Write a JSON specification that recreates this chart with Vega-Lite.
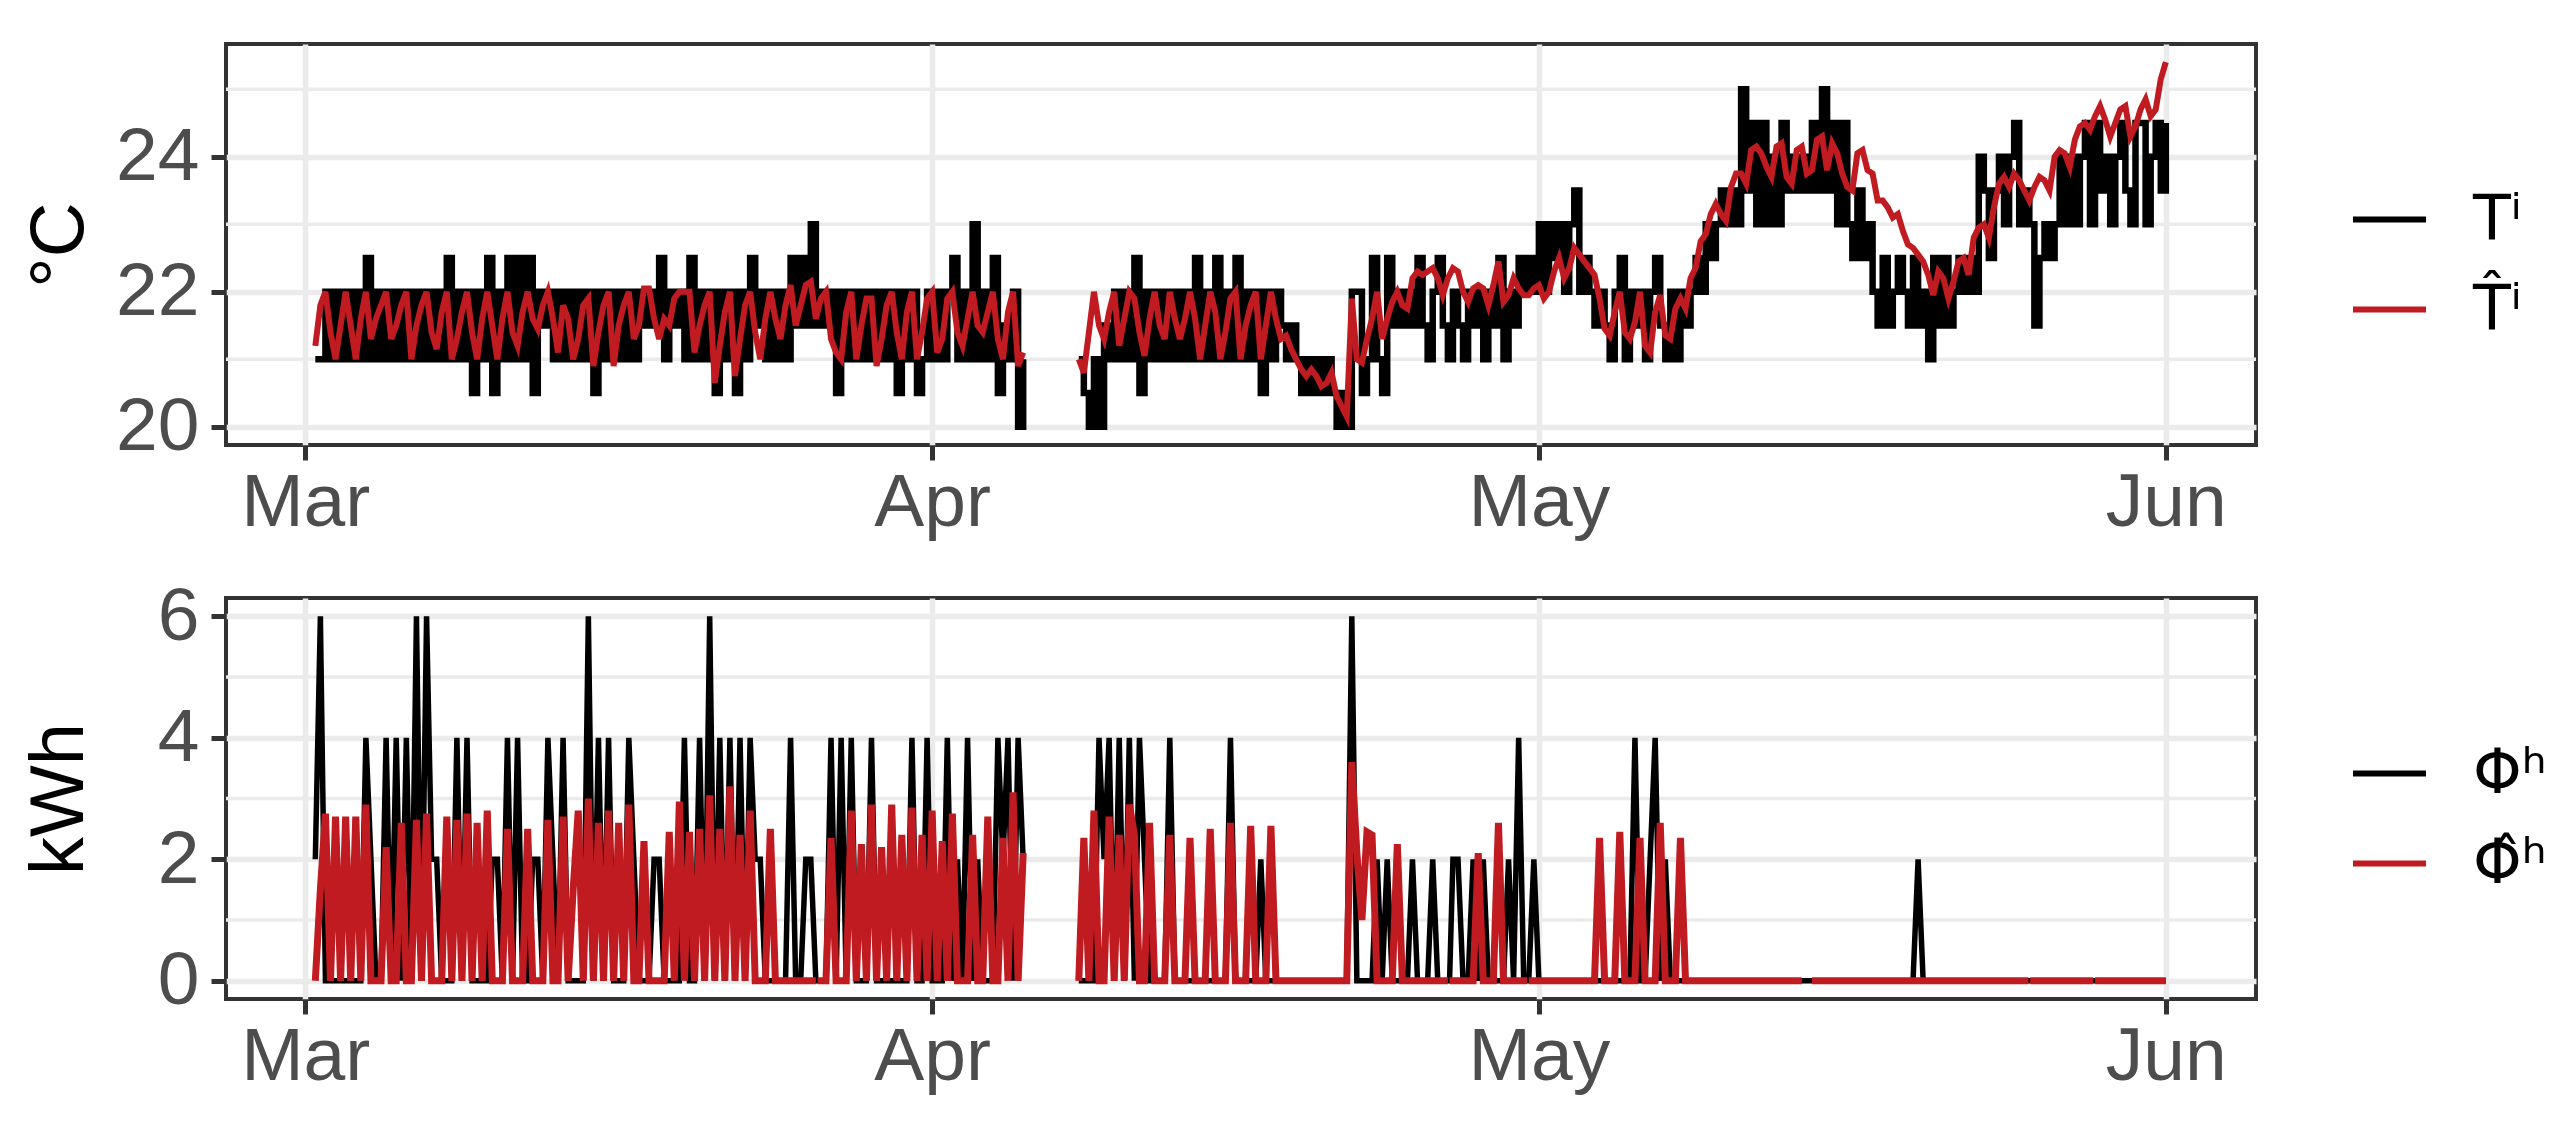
{
"$schema": "https://vega.github.io/schema/vega-lite/v6.json",
"background": "white",
"padding": {"left": 19, "top": 42, "right": 5, "bottom": 5},
"spacing": 35,
"resolve": {"scale": {"color": "independent", "x": "independent", "y": "independent"}},
"config": {
 "font": "Liberation Sans",
 "view": {"stroke": "#333333", "strokeWidth": 4},
 "axis": {"labelFont": "Liberation Sans", "labelFontSize": 75, "labelColor": "#4D4D4D", "titleFont": "Liberation Sans", "titleFontSize": 76, "titleColor": "#000000", "titleFontWeight": "normal", "tickColor": "#333333", "tickWidth": 5, "tickSize": 15, "domain": false, "gridColor": "#EBEBEB", "gridWidth": 5.5},
 "axisX": {"labelFlush": false, "labelOverlap": false, "labelBound": false, "labelPadding": 6},
 "axisY": {"labelPadding": 12, "titleX": -144, "titleBaseline": "alphabetic", "format": "d"},
 "legend": {"title": null, "orient": "none", "legendX": 2124, "legendY": 136, "symbolType": "stroke", "symbolSize": 5329, "symbolStrokeWidth": 6, "labelFontSize": 62, "labelFont": "DejaVu Sans", "labelColor": "#000000", "rowPadding": 19, "labelOffset": 44, "padding": 0}
},
"vconcat": [
 {
  "width": 2030, "height": 401,
  "data": {"format": {"parse": {"t": "utc:'%m%d%H'"}}, "values": [
{"t":"030112","a":21,"b":21.2},{"t":"030118","a":21,"b":21.8},
{"t":"030200","a":22,"b":22},{"t":"030206","a":21,"b":21.4},{"t":"030212","a":22,"b":21},{"t":"030218","a":21,"b":21.5},
{"t":"030300","a":22,"b":22},{"t":"030306","a":21,"b":21.5},{"t":"030312","a":22,"b":21},{"t":"030318","a":21,"b":21.6},
{"t":"030400","a":22.5,"b":22},{"t":"030406","a":21,"b":21.3},{"t":"030412","a":22,"b":21.6},{"t":"030418","a":21,"b":21.8},
{"t":"030500","a":22,"b":22},{"t":"030506","a":21,"b":21.3},{"t":"030512","a":22,"b":21.5},{"t":"030518","a":21,"b":21.8},
{"t":"030600","a":22,"b":22},{"t":"030606","a":21,"b":21},{"t":"030612","a":22,"b":21.5},{"t":"030618","a":21,"b":21.8},
{"t":"030700","a":22,"b":22},{"t":"030706","a":21,"b":21.4},{"t":"030712","a":22,"b":21.15},{"t":"030718","a":21,"b":21.7},
{"t":"030800","a":22.5,"b":22},{"t":"030806","a":21,"b":21},{"t":"030812","a":22,"b":21.3},{"t":"030818","a":21,"b":21.7},
{"t":"030900","a":22,"b":22},{"t":"030906","a":20.5,"b":21.4},{"t":"030912","a":22,"b":21},{"t":"030918","a":21,"b":21.6},
{"t":"031000","a":22.5,"b":22},{"t":"031006","a":20.5,"b":21.5},{"t":"031012","a":22,"b":21},{"t":"031018","a":21,"b":21.6},
{"t":"031100","a":22.5,"b":22},{"t":"031106","a":21,"b":21.4},{"t":"031112","a":22.5,"b":21.2},{"t":"031118","a":21,"b":21.7},
{"t":"031200","a":22.5,"b":22},{"t":"031206","a":20.5,"b":21.6},{"t":"031212","a":22,"b":21.45},{"t":"031218","a":21.5,"b":21.8},
{"t":"031300","a":22,"b":22},{"t":"031306","a":21,"b":21.6},{"t":"031312","a":22,"b":21.1},{"t":"031318","a":21,"b":21.8},
{"t":"031400","a":22,"b":21.6},{"t":"031406","a":21,"b":21},{"t":"031412","a":22,"b":21.3},{"t":"031418","a":21,"b":21.8},
{"t":"031500","a":22,"b":21.9},{"t":"031506","a":20.5,"b":20.9},{"t":"031512","a":22,"b":21.4},{"t":"031518","a":21,"b":21.8},
{"t":"031600","a":22,"b":22},{"t":"031606","a":21,"b":20.9},{"t":"031612","a":22,"b":21.5},{"t":"031618","a":21,"b":21.8},
{"t":"031700","a":22,"b":22},{"t":"031706","a":21,"b":21.3},{"t":"031712","a":22,"b":21.5},{"t":"031718","a":21.5,"b":22.05},
{"t":"031800","a":22,"b":22.05},{"t":"031806","a":21.5,"b":21.6},{"t":"031812","a":22.5,"b":21.3},{"t":"031818","a":21,"b":21.6},
{"t":"031900","a":22,"b":21.5},{"t":"031906","a":21.5,"b":21.9},{"t":"031912","a":22,"b":22},{"t":"031918","a":21,"b":22},
{"t":"032000","a":22.5,"b":22},{"t":"032006","a":21,"b":21.1},{"t":"032012","a":22,"b":21.5},{"t":"032018","a":21,"b":21.8},
{"t":"032100","a":22,"b":22},{"t":"032106","a":20.5,"b":20.65},{"t":"032112","a":22,"b":21.2},{"t":"032118","a":21,"b":21.7},
{"t":"032200","a":22,"b":22},{"t":"032206","a":20.5,"b":20.75},{"t":"032212","a":22,"b":21.3},{"t":"032218","a":21,"b":21.8},
{"t":"032300","a":22.5,"b":22},{"t":"032306","a":21.5,"b":21.4},{"t":"032312","a":22,"b":21},{"t":"032318","a":21,"b":21.6},
{"t":"032400","a":22,"b":22},{"t":"032406","a":21,"b":21.6},{"t":"032412","a":22,"b":21.3},{"t":"032418","a":21,"b":21.8},
{"t":"032500","a":22.5,"b":22.1},{"t":"032506","a":21.5,"b":21.5},{"t":"032512","a":22.5,"b":21.8},{"t":"032518","a":21.5,"b":22.1},
{"t":"032600","a":23,"b":22.15},{"t":"032606","a":21.5,"b":21.6},{"t":"032612","a":22,"b":21.9},{"t":"032618","a":21.5,"b":22},
{"t":"032700","a":22,"b":21.3},{"t":"032706","a":20.5,"b":21.1},{"t":"032712","a":22,"b":21},{"t":"032718","a":21,"b":21.7},
{"t":"032800","a":22,"b":22},{"t":"032806","a":21,"b":21},{"t":"032812","a":22,"b":21.5},{"t":"032818","a":21,"b":21.9},
{"t":"032900","a":22,"b":21.9},{"t":"032906","a":21,"b":20.9},{"t":"032912","a":22,"b":21.3},{"t":"032918","a":21,"b":21.8},
{"t":"033000","a":22,"b":22},{"t":"033006","a":20.5,"b":21.4},{"t":"033012","a":22,"b":21},{"t":"033018","a":21,"b":21.7},
{"t":"033100","a":22,"b":22},{"t":"033106","a":20.5,"b":21},{"t":"033112","a":21,"b":21.4},{"t":"033118","a":22,"b":21.9},
{"t":"040100","a":21,"b":22},{"t":"040106","a":22,"b":21.1},{"t":"040112","a":21,"b":21.3},{"t":"040118","a":22,"b":21.9},
{"t":"040200","a":22.5,"b":22},{"t":"040206","a":21,"b":21.4},{"t":"040212","a":22,"b":21.2},{"t":"040218","a":21,"b":21.6},
{"t":"040300","a":23,"b":22},{"t":"040306","a":21,"b":21.5},{"t":"040312","a":22,"b":21.4},{"t":"040318","a":21,"b":21.7},
{"t":"040400","a":22.5,"b":22},{"t":"040406","a":20.5,"b":21.3},{"t":"040412","a":21.5,"b":21},{"t":"040418","a":21,"b":21.7},
{"t":"040500","a":22,"b":22},{"t":"040506","a":20,"b":20.9},{"t":"040512","a":21,"b":21.1},
{"t":"040618","a":null,"b":null},
{"t":"040806","a":21,"b":21},{"t":"040812","a":20.5,"b":20.8},{"t":"040818","a":20,"b":21.4},
{"t":"040900","a":21,"b":22},{"t":"040906","a":20,"b":21.5},{"t":"040912","a":21.5,"b":21.3},{"t":"040918","a":21,"b":21.7},
{"t":"041000","a":22,"b":22},{"t":"041006","a":21,"b":21.2},{"t":"041012","a":22,"b":21.6},{"t":"041018","a":21,"b":22},
{"t":"041100","a":22.5,"b":21.9},{"t":"041106","a":20.5,"b":21.4},{"t":"041112","a":22,"b":21.05},{"t":"041118","a":21,"b":21.6},
{"t":"041200","a":22,"b":22},{"t":"041206","a":21,"b":21.5},{"t":"041212","a":22,"b":21.3},{"t":"041218","a":21,"b":22},
{"t":"041300","a":22,"b":21.6},{"t":"041306","a":21,"b":21.3},{"t":"041312","a":22,"b":21.6},{"t":"041318","a":21,"b":22},
{"t":"041400","a":22.5,"b":21.6},{"t":"041406","a":21,"b":21},{"t":"041412","a":22,"b":21.5},{"t":"041418","a":21,"b":22},
{"t":"041500","a":22.5,"b":21.7},{"t":"041506","a":21,"b":21},{"t":"041512","a":22,"b":21.4},{"t":"041518","a":21,"b":21.9},
{"t":"041600","a":22.5,"b":22},{"t":"041606","a":21,"b":21},{"t":"041612","a":22,"b":21.5},{"t":"041618","a":21,"b":21.8},
{"t":"041700","a":22,"b":22},{"t":"041706","a":20.5,"b":21},{"t":"041712","a":22,"b":21.5},{"t":"041718","a":21,"b":22},
{"t":"041800","a":22,"b":21.6},{"t":"041806","a":21.5,"b":21.3},{"t":"041812","a":21,"b":21.35},{"t":"041818","a":21.5,"b":21.15},
{"t":"041900","a":21,"b":21},{"t":"041906","a":20.5,"b":20.85},{"t":"041912","a":21,"b":20.75},{"t":"041918","a":20.5,"b":20.85},
{"t":"042000","a":21,"b":20.75},{"t":"042006","a":20.5,"b":20.6},{"t":"042012","a":21,"b":20.65},{"t":"042018","a":20.5,"b":20.8},
{"t":"042100","a":20,"b":20.45},{"t":"042106","a":20.5,"b":20.3},{"t":"042112","a":20,"b":20.15},{"t":"042118","a":22,"b":21.9},
{"t":"042200","a":22,"b":21},{"t":"042206","a":20.5,"b":20.95},{"t":"042212","a":21,"b":21.3},{"t":"042218","a":22.5,"b":21.6},
{"t":"042300","a":21,"b":22},{"t":"042306","a":20.5,"b":21.3},{"t":"042312","a":22.5,"b":21.6},{"t":"042318","a":21.5,"b":21.85},
{"t":"042400","a":22,"b":22},{"t":"042406","a":21.5,"b":21.8},{"t":"042412","a":22,"b":21.75},{"t":"042418","a":21.5,"b":22.2},
{"t":"042500","a":22.5,"b":22.3},{"t":"042506","a":21.5,"b":22.25},{"t":"042512","a":21,"b":22.3},{"t":"042518","a":22,"b":22.35},
{"t":"042600","a":22.5,"b":22.2},{"t":"042606","a":21.5,"b":21.95},{"t":"042612","a":21,"b":22.2},{"t":"042618","a":22,"b":22.35},
{"t":"042700","a":21.5,"b":22.3},{"t":"042706","a":21,"b":22},{"t":"042712","a":22,"b":21.85},{"t":"042718","a":21.5,"b":22.05},
{"t":"042800","a":22,"b":22.1},{"t":"042806","a":21,"b":22.05},{"t":"042812","a":22,"b":21.8},{"t":"042818","a":21.5,"b":22.1},
{"t":"042900","a":22.5,"b":22.45},{"t":"042906","a":21,"b":21.85},{"t":"042912","a":22,"b":21.95},{"t":"042918","a":21.5,"b":22.2},
{"t":"043000","a":22.5,"b":22.05},{"t":"043006","a":22,"b":21.95},{"t":"043012","a":22.5,"b":21.95},{"t":"043018","a":22,"b":22.05},
{"t":"050100","a":23,"b":22.1},{"t":"050106","a":22,"b":21.9},{"t":"050112","a":23,"b":22},{"t":"050118","a":22.5,"b":22.3},
{"t":"050200","a":23,"b":22.5},{"t":"050206","a":22,"b":22.2},{"t":"050212","a":23,"b":22.35},{"t":"050218","a":23.5,"b":22.65},
{"t":"050300","a":22,"b":22.55},{"t":"050306","a":22.5,"b":22.45},{"t":"050312","a":22,"b":22.35},{"t":"050318","a":21.5,"b":22.25},
{"t":"050400","a":22,"b":21.9},{"t":"050406","a":21.5,"b":21.45},{"t":"050412","a":21,"b":21.35},{"t":"050418","a":22,"b":21.7},
{"t":"050500","a":22.5,"b":22},{"t":"050506","a":21,"b":21.4},{"t":"050512","a":22,"b":21.3},{"t":"050518","a":21.5,"b":21.55},
{"t":"050600","a":22,"b":22},{"t":"050606","a":21,"b":21.2},{"t":"050612","a":22,"b":21.1},{"t":"050618","a":22.5,"b":21.7},
{"t":"050700","a":21.5,"b":21.95},{"t":"050706","a":21,"b":21.35},{"t":"050712","a":22,"b":21.3},{"t":"050718","a":21,"b":21.75},
{"t":"050800","a":22,"b":21.9},{"t":"050806","a":21.5,"b":21.75},{"t":"050812","a":22,"b":22.2},{"t":"050818","a":22.5,"b":22.35},
{"t":"050900","a":22,"b":22.75},{"t":"050906","a":23,"b":22.85},{"t":"050912","a":22.5,"b":23.15},{"t":"050918","a":23,"b":23.3},
{"t":"051000","a":23.5,"b":23.15},{"t":"051006","a":23,"b":23.05},{"t":"051012","a":23.5,"b":23.55},{"t":"051018","a":23,"b":23.75},
{"t":"051100","a":25,"b":23.75},{"t":"051106","a":23.5,"b":23.6},{"t":"051112","a":24.5,"b":24.1},{"t":"051118","a":23,"b":24.15},
{"t":"051200","a":24.5,"b":24.05},{"t":"051206","a":23,"b":23.85},{"t":"051212","a":24,"b":23.7},{"t":"051218","a":23,"b":24.15},
{"t":"051300","a":24.5,"b":24.2},{"t":"051306","a":23.5,"b":23.7},{"t":"051312","a":24,"b":23.6},{"t":"051318","a":23.5,"b":24.1},
{"t":"051400","a":24,"b":24.15},{"t":"051406","a":23.5,"b":23.75},{"t":"051412","a":24.5,"b":23.8},{"t":"051418","a":23.5,"b":24.25},
{"t":"051500","a":25,"b":24.3},{"t":"051506","a":23.5,"b":23.8},{"t":"051512","a":24.5,"b":24.2},{"t":"051518","a":23,"b":24.05},
{"t":"051600","a":24.5,"b":23.75},{"t":"051606","a":23,"b":23.55},{"t":"051612","a":22.5,"b":23.5},{"t":"051618","a":23.5,"b":24.05},
{"t":"051700","a":22.5,"b":24.1},{"t":"051706","a":23,"b":23.8},{"t":"051712","a":22,"b":23.75},{"t":"051718","a":21.5,"b":23.35},
{"t":"051800","a":22.5,"b":23.35},{"t":"051806","a":21.5,"b":23.25},{"t":"051812","a":22,"b":23.1},{"t":"051818","a":22.5,"b":23.15},
{"t":"051900","a":22,"b":22.9},{"t":"051906","a":21.5,"b":22.7},{"t":"051912","a":22.5,"b":22.65},{"t":"051918","a":21.5,"b":22.55},
{"t":"052000","a":22,"b":22.45},{"t":"052006","a":21,"b":22.25},{"t":"052012","a":22.5,"b":21.95},{"t":"052018","a":21.5,"b":22.3},
{"t":"052100","a":22.5,"b":22.2},{"t":"052106","a":21.5,"b":21.9},{"t":"052112","a":22,"b":22.15},{"t":"052118","a":22.5,"b":22.45},
{"t":"052200","a":22,"b":22.5},{"t":"052206","a":22.5,"b":22.25},{"t":"052212","a":22,"b":22.8},{"t":"052218","a":24,"b":22.95},
{"t":"052300","a":23.5,"b":23},{"t":"052306","a":22.5,"b":22.8},{"t":"052312","a":23.5,"b":23.25},{"t":"052318","a":24,"b":23.6},
{"t":"052400","a":23,"b":23.7},{"t":"052406","a":24,"b":23.55},{"t":"052412","a":24.5,"b":23.75},{"t":"052418","a":23,"b":23.65},
{"t":"052500","a":23.5,"b":23.5},{"t":"052506","a":23,"b":23.35},{"t":"052512","a":21.5,"b":23.55},{"t":"052518","a":22.5,"b":23.7},
{"t":"052600","a":23,"b":23.65},{"t":"052606","a":22.5,"b":23.5},{"t":"052612","a":23,"b":24},{"t":"052618","a":24,"b":24.1},
{"t":"052700","a":23,"b":24.05},{"t":"052706","a":24,"b":23.85},{"t":"052712","a":23,"b":24.25},{"t":"052718","a":24,"b":24.45},
{"t":"052800","a":24.5,"b":24.5},{"t":"052806","a":23,"b":24.4},{"t":"052812","a":24.5,"b":24.6},{"t":"052818","a":23.5,"b":24.75},
{"t":"052900","a":24,"b":24.55},{"t":"052906","a":23,"b":24.3},{"t":"052912","a":24,"b":24.5},{"t":"052918","a":24.5,"b":24.7},
{"t":"053000","a":23.5,"b":24.75},{"t":"053006","a":23,"b":24.3},{"t":"053012","a":24.5,"b":24.45},{"t":"053018","a":24.5,"b":24.7},
{"t":"053100","a":23,"b":24.85},{"t":"053106","a":24,"b":24.6},{"t":"053112","a":24.5,"b":24.7},{"t":"053118","a":23.5,"b":25.15},
{"t":"060100","a":24.5,"b":25.4}
  ]},
  "layer": [
   {"data": {"format": {"parse": {"t": "utc:'%m%d%H'"}}, "values": [{"t":"031612"},{"t":"041600"},{"t":"051612"}]},
    "mark": {"type": "rule", "stroke": "#EBEBEB", "strokeWidth": 3.5},
    "encoding": {"x": {"field": "t", "type": "temporal", "title": null,
      "scale": {"type": "utc", "nice": false, "domain": [{"year":1900,"month":2,"date":25,"hours":2,"utc":true},{"year":1900,"month":6,"date":5,"hours":11,"utc":true}]},
      "axis": {"format": "%b", "values": [{"year":1900,"month":3,"date":1,"utc":true},{"year":1900,"month":4,"date":1,"utc":true},{"year":1900,"month":5,"date":1,"utc":true},{"year":1900,"month":6,"date":1,"utc":true}]}}}},
   {"data": {"values": [{"v":21},{"v":23},{"v":25}]},
    "mark": {"type": "rule", "stroke": "#EBEBEB", "strokeWidth": 3.5},
    "encoding": {"y": {"field": "v", "type": "quantitative", "title": "°C", "scale": {"domain": [19.73, 25.67], "nice": false, "zero": false}, "axis": {"values": [20, 22, 24]}}}},
   {"mark": {"type": "line", "strokeWidth": 6.5, "interpolate": "step-after", "invalid": "break-paths-filter-domains"},
    "encoding": {
     "x": {"field": "t", "type": "temporal", "title": null},
     "y": {"field": "a", "type": "quantitative", "title": "°C"},
     "color": {"datum": "Tⁱ", "type": "nominal", "scale": {"domain": ["Tⁱ", "T̂ⁱ"], "range": ["#000000", "#C01B21"]}}}},
   {"mark": {"type": "line", "strokeWidth": 6, "invalid": "break-paths-filter-domains"},
    "encoding": {
     "x": {"field": "t", "type": "temporal", "title": null},
     "y": {"field": "b", "type": "quantitative", "title": "°C"},
     "color": {"datum": "T̂ⁱ", "type": "nominal"}}}
  ]
 },
 {
  "width": 2030, "height": 401,
  "data": {"format": {"parse": {"t": "utc:'%m%d%H'"}}, "values": [
{"t":"030112","c":2,"d":0},{"t":"030118","c":6,"d":1.5},
{"t":"030200","c":0,"d":2.75},{"t":"030206","c":0,"d":0},{"t":"030212","c":0,"d":2.7},{"t":"030218","c":0,"d":0},
{"t":"030300","c":0,"d":2.7},{"t":"030306","c":0,"d":0},{"t":"030312","c":0,"d":2.7},{"t":"030318","c":0,"d":0},
{"t":"030400","c":4,"d":2.9},{"t":"030406","c":2,"d":0},{"t":"030412","c":0,"d":0},{"t":"030418","c":0,"d":0},
{"t":"030500","c":4,"d":2.2},{"t":"030506","c":0,"d":0},{"t":"030512","c":4,"d":0},{"t":"030518","c":0,"d":2.6},
{"t":"030600","c":4,"d":0},{"t":"030606","c":0,"d":0},{"t":"030612","c":6,"d":2.65},{"t":"030618","c":0,"d":0},
{"t":"030700","c":6,"d":2.75},{"t":"030706","c":2,"d":0},{"t":"030712","c":2,"d":0},{"t":"030718","c":0,"d":0},
{"t":"030800","c":0,"d":2.7},{"t":"030806","c":0,"d":0},{"t":"030812","c":4,"d":2.65},{"t":"030818","c":0,"d":0},
{"t":"030900","c":4,"d":2.75},{"t":"030906","c":0,"d":0},{"t":"030912","c":0,"d":2.6},{"t":"030918","c":0,"d":0},
{"t":"031000","c":0,"d":2.8},{"t":"031006","c":2,"d":0},{"t":"031012","c":2,"d":0},{"t":"031018","c":0,"d":0},
{"t":"031100","c":4,"d":2.5},{"t":"031106","c":0,"d":0},{"t":"031112","c":4,"d":0},{"t":"031118","c":0,"d":0},
{"t":"031200","c":0,"d":2.5},{"t":"031206","c":2,"d":0},{"t":"031212","c":2,"d":0},{"t":"031218","c":0,"d":0},
{"t":"031300","c":4,"d":2.65},{"t":"031306","c":2,"d":0},{"t":"031312","c":0,"d":0},{"t":"031318","c":4,"d":2.7},
{"t":"031400","c":0,"d":0},{"t":"031406","c":0,"d":1.5},{"t":"031412","c":0,"d":2.8},{"t":"031418","c":0,"d":0},
{"t":"031500","c":6,"d":3},{"t":"031506","c":0,"d":0},{"t":"031512","c":4,"d":2.6},{"t":"031518","c":0,"d":0},
{"t":"031600","c":4,"d":2.8},{"t":"031606","c":0,"d":0},{"t":"031612","c":0,"d":2.6},{"t":"031618","c":0,"d":0},
{"t":"031700","c":4,"d":2.9},{"t":"031706","c":2,"d":0},{"t":"031712","c":0,"d":0},{"t":"031718","c":0,"d":2.3},
{"t":"031800","c":0,"d":0},{"t":"031806","c":2,"d":0},{"t":"031812","c":2,"d":0},{"t":"031818","c":0,"d":0},
{"t":"031900","c":0,"d":2.45},{"t":"031906","c":0,"d":0},{"t":"031912","c":0,"d":2.95},{"t":"031918","c":4,"d":0},
{"t":"032000","c":0,"d":2.45},{"t":"032006","c":0,"d":0},{"t":"032012","c":4,"d":2.5},{"t":"032018","c":0,"d":0},
{"t":"032100","c":6,"d":3.05},{"t":"032106","c":0,"d":0},{"t":"032112","c":4,"d":2.5},{"t":"032118","c":0,"d":0},
{"t":"032200","c":4,"d":3.2},{"t":"032206","c":0,"d":0},{"t":"032212","c":4,"d":2.4},{"t":"032218","c":0,"d":0},
{"t":"032300","c":4,"d":2.8},{"t":"032306","c":2,"d":0},{"t":"032312","c":2,"d":0},{"t":"032318","c":0,"d":0},
{"t":"032400","c":0,"d":2.5},{"t":"032406","c":0,"d":0},{"t":"032412","c":0,"d":0},{"t":"032418","c":0,"d":0},
{"t":"032500","c":4,"d":0},{"t":"032506","c":0,"d":0},{"t":"032512","c":0,"d":0},{"t":"032518","c":2,"d":0},
{"t":"032600","c":2,"d":0},{"t":"032606","c":0,"d":0},{"t":"032607","c":0,"d":null},{"t":"032608","c":0,"d":0},{"t":"032612","c":0,"d":0},{"t":"032618","c":0,"d":0},
{"t":"032700","c":4,"d":2.35},{"t":"032706","c":0,"d":0},{"t":"032712","c":4,"d":0},{"t":"032718","c":0,"d":0},
{"t":"032800","c":4,"d":2.8},{"t":"032806","c":0,"d":0},{"t":"032812","c":0,"d":2.25},{"t":"032818","c":0,"d":0},
{"t":"032900","c":4,"d":2.9},{"t":"032906","c":0,"d":0},{"t":"032912","c":0,"d":2.2},{"t":"032918","c":0,"d":0},
{"t":"033000","c":0,"d":2.9},{"t":"033006","c":0,"d":0},{"t":"033012","c":0,"d":2.4},{"t":"033018","c":0,"d":0},
{"t":"033100","c":4,"d":2.85},{"t":"033106","c":0,"d":0},{"t":"033112","c":0,"d":2.4},{"t":"033118","c":4,"d":0},
{"t":"040100","c":0,"d":2.8},{"t":"040106","c":0,"d":0},{"t":"040112","c":0,"d":2.3},{"t":"040118","c":4,"d":0},
{"t":"040200","c":0,"d":2.75},{"t":"040206","c":2,"d":0},{"t":"040212","c":0,"d":0},{"t":"040218","c":4,"d":0},
{"t":"040300","c":0,"d":2.4},{"t":"040306","c":2,"d":0},{"t":"040312","c":0,"d":0},{"t":"040318","c":0,"d":2.7},
{"t":"040400","c":0,"d":0},{"t":"040406","c":4,"d":0},{"t":"040412","c":2,"d":2.35},{"t":"040418","c":4,"d":0},
{"t":"040500","c":0,"d":3.1},{"t":"040506","c":4,"d":0},{"t":"040512","c":2,"d":2.1},
{"t":"040618","c":null,"d":null},
{"t":"040806","c":0,"d":0},{"t":"040812","c":0,"d":2.35},{"t":"040818","c":0,"d":0},
{"t":"040900","c":0,"d":2.8},{"t":"040906","c":4,"d":0},{"t":"040912","c":2,"d":0},{"t":"040918","c":4,"d":2.7},
{"t":"041000","c":0,"d":0},{"t":"041006","c":4,"d":2.4},{"t":"041012","c":0,"d":0},{"t":"041018","c":4,"d":2.9},
{"t":"041100","c":0,"d":2.4},{"t":"041106","c":4,"d":0},{"t":"041112","c":2,"d":0},{"t":"041118","c":0,"d":2.6},
{"t":"041200","c":0,"d":0},{"t":"041212","c":0,"d":0},{"t":"041218","c":4,"d":2.4},
{"t":"041300","c":0,"d":0},{"t":"041312","c":0,"d":0},{"t":"041318","c":0,"d":2.35},
{"t":"041400","c":0,"d":0},{"t":"041412","c":0,"d":0},{"t":"041418","c":0,"d":2.5},
{"t":"041500","c":0,"d":0},{"t":"041512","c":0,"d":0},{"t":"041518","c":4,"d":2.6},
{"t":"041600","c":0,"d":0},{"t":"041612","c":0,"d":0},{"t":"041618","c":0,"d":2.55},
{"t":"041700","c":0,"d":0},{"t":"041706","c":2,"d":0},{"t":"041712","c":0,"d":0},{"t":"041718","c":0,"d":2.55},
{"t":"041800","c":0,"d":0},
{"t":"042112","c":0,"d":0},{"t":"042118","c":6,"d":3.6},
{"t":"042200","c":0,"d":2.1},{"t":"042206","c":0,"d":1},{"t":"042212","c":0,"d":2.45},{"t":"042218","c":0,"d":2.4},
{"t":"042300","c":2,"d":0},{"t":"042306","c":0,"d":0},{"t":"042312","c":2,"d":0},{"t":"042318","c":0,"d":0},
{"t":"042400","c":0,"d":2.25},{"t":"042406","c":0,"d":0},{"t":"042412","c":0,"d":0},{"t":"042418","c":2,"d":0},
{"t":"042500","c":0,"d":0},{"t":"042512","c":0,"d":0},{"t":"042518","c":2,"d":0},
{"t":"042600","c":0,"d":0},{"t":"042612","c":0,"d":0},{"t":"042613","c":0,"d":null},{"t":"042614","c":0,"d":0},{"t":"042618","c":2,"d":0},
{"t":"042700","c":2,"d":0},{"t":"042706","c":0,"d":0},{"t":"042712","c":0,"d":0},{"t":"042718","c":2,"d":0},
{"t":"042800","c":0,"d":2.1},{"t":"042806","c":2,"d":0},{"t":"042812","c":0,"d":0},{"t":"042818","c":0,"d":0},
{"t":"042900","c":0,"d":2.6},{"t":"042906","c":0,"d":0},{"t":"042912","c":2,"d":0},{"t":"042918","c":0,"d":0},
{"t":"043000","c":4,"d":0},{"t":"043006","c":0,"d":0},{"t":"043010","c":0,"d":0},{"t":"043011","c":0,"d":null},{"t":"043012","c":0,"d":0},{"t":"043018","c":2,"d":0},
{"t":"050100","c":0,"d":0},
{"t":"050318","c":0,"d":0},{"t":"050400","c":0,"d":2.35},{"t":"050406","c":0,"d":0},
{"t":"050418","c":0,"d":0},{"t":"050500","c":0,"d":2.45},{"t":"050506","c":0,"d":0},{"t":"050512","c":0,"d":0},{"t":"050518","c":4,"d":0},
{"t":"050600","c":0,"d":2.35},{"t":"050606","c":0,"d":0},{"t":"050612","c":2,"d":0},{"t":"050618","c":4,"d":0},
{"t":"050700","c":0,"d":2.6},{"t":"050706","c":2,"d":0},{"t":"050712","c":0,"d":0},{"t":"050718","c":0,"d":0},
{"t":"050800","c":0,"d":2.35},{"t":"050806","c":0,"d":0},
{"t":"051400","c":0,"d":0},{"t":"051406","c":0,"d":null},{"t":"051412","c":0,"d":0},
{"t":"051912","c":0,"d":0},{"t":"051918","c":2,"d":0},{"t":"052000","c":0,"d":0},
{"t":"052505","c":0,"d":0},{"t":"052506","c":0,"d":null},{"t":"052507","c":0,"d":0},
{"t":"052810","c":0,"d":0},{"t":"052811","c":0,"d":null},{"t":"052812","c":0,"d":0},
{"t":"060100","c":0,"d":0}
  ]},
  "layer": [
   {"data": {"format": {"parse": {"t": "utc:'%m%d%H'"}}, "values": [{"t":"031612"},{"t":"041600"},{"t":"051612"}]},
    "mark": {"type": "rule", "stroke": "#EBEBEB", "strokeWidth": 3.5},
    "encoding": {"x": {"field": "t", "type": "temporal", "title": null,
      "scale": {"type": "utc", "nice": false, "domain": [{"year":1900,"month":2,"date":25,"hours":2,"utc":true},{"year":1900,"month":6,"date":5,"hours":11,"utc":true}]},
      "axis": {"format": "%b", "values": [{"year":1900,"month":3,"date":1,"utc":true},{"year":1900,"month":4,"date":1,"utc":true},{"year":1900,"month":5,"date":1,"utc":true},{"year":1900,"month":6,"date":1,"utc":true}]}}}},
   {"data": {"values": [{"v":1},{"v":3},{"v":5}]},
    "mark": {"type": "rule", "stroke": "#EBEBEB", "strokeWidth": 3.5},
    "encoding": {"y": {"field": "v", "type": "quantitative", "title": "kWh", "scale": {"domain": [-0.3, 6.3], "nice": false, "zero": false}, "axis": {"values": [0, 2, 4, 6]}}}},
   {"mark": {"type": "line", "strokeWidth": 5.5, "invalid": "break-paths-filter-domains"},
    "encoding": {
     "x": {"field": "t", "type": "temporal", "title": null},
     "y": {"field": "c", "type": "quantitative", "title": "kWh"},
     "color": {"datum": "Φʰ", "type": "nominal", "scale": {"domain": ["Φʰ", "Φ̂ʰ"], "range": ["#000000", "#C01B21"]}}}},
   {"mark": {"type": "line", "strokeWidth": 7, "invalid": "break-paths-filter-domains"},
    "encoding": {
     "x": {"field": "t", "type": "temporal", "title": null},
     "y": {"field": "d", "type": "quantitative", "title": "kWh"},
     "color": {"datum": "Φ̂ʰ", "type": "nominal"}}}
  ]
 }
]
}
